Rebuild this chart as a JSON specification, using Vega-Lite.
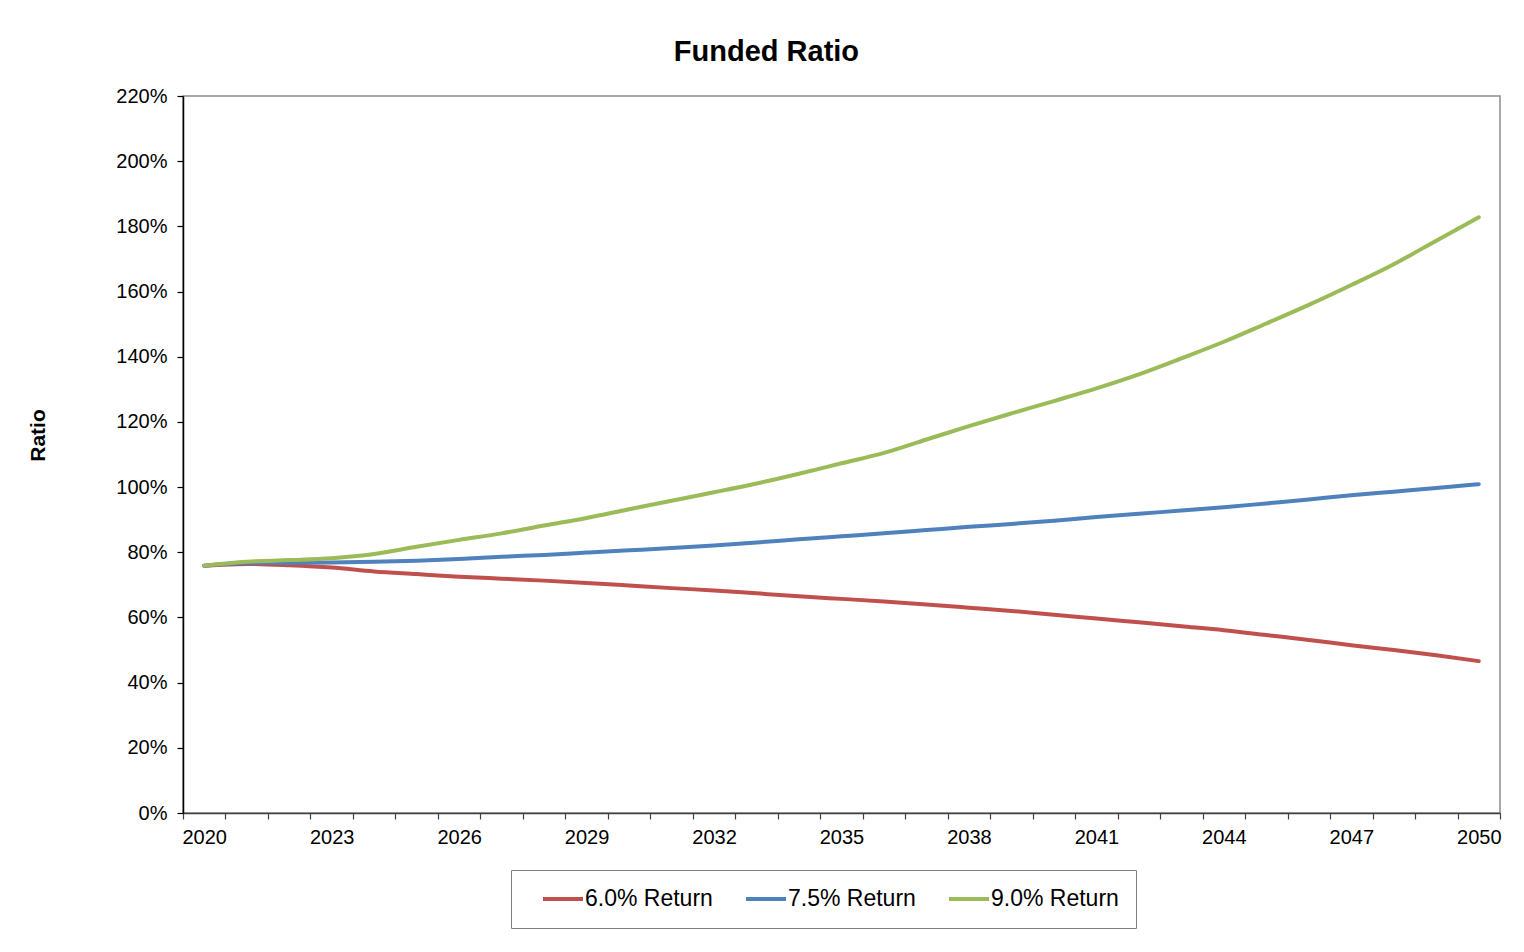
{
  "$schema": "https://vega.github.io/schema/vega-lite/v6.json",
  "width": 1317,
  "height": 717,
  "autosize": "none",
  "padding": {"left": 183, "top": 96, "right": 24, "bottom": 139},
  "background": "white",
  "title": {"text": "Funded Ratio", "font": "Liberation Sans", "fontSize": 29, "fontWeight": "bold", "color": "black", "anchor": "middle", "frame": "bounds", "offset": 19, "dx": 2},
  "config": {
    "view": {"stroke": "#8c8c8c", "strokeWidth": 1.5},
    "axis": {"labelFont": "Liberation Sans", "titleFont": "Liberation Sans", "labelColor": "black", "titleColor": "black", "grid": false}
  },
  "data": {"values": [
    {"year": 2020, "series": "6.0% Return", "ratio": 0.759},
    {"year": 2021, "series": "6.0% Return", "ratio": 0.764},
    {"year": 2022, "series": "6.0% Return", "ratio": 0.760},
    {"year": 2023, "series": "6.0% Return", "ratio": 0.753},
    {"year": 2024, "series": "6.0% Return", "ratio": 0.741},
    {"year": 2025, "series": "6.0% Return", "ratio": 0.733},
    {"year": 2026, "series": "6.0% Return", "ratio": 0.725},
    {"year": 2027, "series": "6.0% Return", "ratio": 0.719},
    {"year": 2028, "series": "6.0% Return", "ratio": 0.713},
    {"year": 2029, "series": "6.0% Return", "ratio": 0.706},
    {"year": 2030, "series": "6.0% Return", "ratio": 0.698},
    {"year": 2031, "series": "6.0% Return", "ratio": 0.690},
    {"year": 2032, "series": "6.0% Return", "ratio": 0.683},
    {"year": 2033, "series": "6.0% Return", "ratio": 0.674},
    {"year": 2034, "series": "6.0% Return", "ratio": 0.665},
    {"year": 2035, "series": "6.0% Return", "ratio": 0.657},
    {"year": 2036, "series": "6.0% Return", "ratio": 0.649},
    {"year": 2037, "series": "6.0% Return", "ratio": 0.640},
    {"year": 2038, "series": "6.0% Return", "ratio": 0.630},
    {"year": 2039, "series": "6.0% Return", "ratio": 0.620},
    {"year": 2040, "series": "6.0% Return", "ratio": 0.608},
    {"year": 2041, "series": "6.0% Return", "ratio": 0.597},
    {"year": 2042, "series": "6.0% Return", "ratio": 0.585},
    {"year": 2043, "series": "6.0% Return", "ratio": 0.573},
    {"year": 2044, "series": "6.0% Return", "ratio": 0.561},
    {"year": 2045, "series": "6.0% Return", "ratio": 0.546},
    {"year": 2046, "series": "6.0% Return", "ratio": 0.531},
    {"year": 2047, "series": "6.0% Return", "ratio": 0.515},
    {"year": 2048, "series": "6.0% Return", "ratio": 0.500},
    {"year": 2049, "series": "6.0% Return", "ratio": 0.484},
    {"year": 2050, "series": "6.0% Return", "ratio": 0.466},
    {"year": 2020, "series": "7.5% Return", "ratio": 0.759},
    {"year": 2021, "series": "7.5% Return", "ratio": 0.767},
    {"year": 2022, "series": "7.5% Return", "ratio": 0.768},
    {"year": 2023, "series": "7.5% Return", "ratio": 0.769},
    {"year": 2024, "series": "7.5% Return", "ratio": 0.771},
    {"year": 2025, "series": "7.5% Return", "ratio": 0.774},
    {"year": 2026, "series": "7.5% Return", "ratio": 0.779},
    {"year": 2027, "series": "7.5% Return", "ratio": 0.786},
    {"year": 2028, "series": "7.5% Return", "ratio": 0.792},
    {"year": 2029, "series": "7.5% Return", "ratio": 0.799},
    {"year": 2030, "series": "7.5% Return", "ratio": 0.806},
    {"year": 2031, "series": "7.5% Return", "ratio": 0.813},
    {"year": 2032, "series": "7.5% Return", "ratio": 0.821},
    {"year": 2033, "series": "7.5% Return", "ratio": 0.830},
    {"year": 2034, "series": "7.5% Return", "ratio": 0.840},
    {"year": 2035, "series": "7.5% Return", "ratio": 0.849},
    {"year": 2036, "series": "7.5% Return", "ratio": 0.858},
    {"year": 2037, "series": "7.5% Return", "ratio": 0.868},
    {"year": 2038, "series": "7.5% Return", "ratio": 0.878},
    {"year": 2039, "series": "7.5% Return", "ratio": 0.887},
    {"year": 2040, "series": "7.5% Return", "ratio": 0.897},
    {"year": 2041, "series": "7.5% Return", "ratio": 0.908},
    {"year": 2042, "series": "7.5% Return", "ratio": 0.918},
    {"year": 2043, "series": "7.5% Return", "ratio": 0.928},
    {"year": 2044, "series": "7.5% Return", "ratio": 0.938},
    {"year": 2045, "series": "7.5% Return", "ratio": 0.950},
    {"year": 2046, "series": "7.5% Return", "ratio": 0.962},
    {"year": 2047, "series": "7.5% Return", "ratio": 0.975},
    {"year": 2048, "series": "7.5% Return", "ratio": 0.986},
    {"year": 2049, "series": "7.5% Return", "ratio": 0.997},
    {"year": 2050, "series": "7.5% Return", "ratio": 1.009},
    {"year": 2020, "series": "9.0% Return", "ratio": 0.759},
    {"year": 2021, "series": "9.0% Return", "ratio": 0.771},
    {"year": 2022, "series": "9.0% Return", "ratio": 0.776},
    {"year": 2023, "series": "9.0% Return", "ratio": 0.782},
    {"year": 2024, "series": "9.0% Return", "ratio": 0.795},
    {"year": 2025, "series": "9.0% Return", "ratio": 0.817},
    {"year": 2026, "series": "9.0% Return", "ratio": 0.838},
    {"year": 2027, "series": "9.0% Return", "ratio": 0.858},
    {"year": 2028, "series": "9.0% Return", "ratio": 0.882},
    {"year": 2029, "series": "9.0% Return", "ratio": 0.905},
    {"year": 2030, "series": "9.0% Return", "ratio": 0.932},
    {"year": 2031, "series": "9.0% Return", "ratio": 0.958},
    {"year": 2032, "series": "9.0% Return", "ratio": 0.984},
    {"year": 2033, "series": "9.0% Return", "ratio": 1.011},
    {"year": 2034, "series": "9.0% Return", "ratio": 1.041},
    {"year": 2035, "series": "9.0% Return", "ratio": 1.073},
    {"year": 2036, "series": "9.0% Return", "ratio": 1.105},
    {"year": 2037, "series": "9.0% Return", "ratio": 1.146},
    {"year": 2038, "series": "9.0% Return", "ratio": 1.187},
    {"year": 2039, "series": "9.0% Return", "ratio": 1.226},
    {"year": 2040, "series": "9.0% Return", "ratio": 1.264},
    {"year": 2041, "series": "9.0% Return", "ratio": 1.303},
    {"year": 2042, "series": "9.0% Return", "ratio": 1.346},
    {"year": 2043, "series": "9.0% Return", "ratio": 1.395},
    {"year": 2044, "series": "9.0% Return", "ratio": 1.446},
    {"year": 2045, "series": "9.0% Return", "ratio": 1.502},
    {"year": 2046, "series": "9.0% Return", "ratio": 1.559},
    {"year": 2047, "series": "9.0% Return", "ratio": 1.620},
    {"year": 2048, "series": "9.0% Return", "ratio": 1.684},
    {"year": 2049, "series": "9.0% Return", "ratio": 1.756},
    {"year": 2050, "series": "9.0% Return", "ratio": 1.828}
  ]},
  "mark": {"type": "line", "strokeWidth": 4, "interpolate": "monotone", "strokeCap": "round"},
  "encoding": {
    "x": {
      "field": "year", "type": "ordinal",
      "scale": {"type": "band", "paddingInner": 0, "paddingOuter": 0},
      "axis": {
        "title": null, "tickBand": "extent", "labelAngle": 0, "labelFontSize": 20,
        "labelExpr": "(datum.value - 2020) % 3 == 0 ? datum.label : ''",
        "labelOverlap": false, "tickSize": 6, "tickColor": "#404040", "domainColor": "#404040",
        "domainWidth": 1.5, "tickWidth": 1.2, "labelPadding": 8
      }
    },
    "y": {
      "field": "ratio", "type": "quantitative",
      "scale": {"domain": [0, 2.2], "nice": false},
      "axis": {
        "title": "Ratio", "titleFontSize": 21, "titleFontWeight": "bold", "titlePadding": 67, "titleY": 339,
        "values": [0, 0.2, 0.4, 0.6, 0.8, 1.0, 1.2, 1.4, 1.6, 1.8, 2.0, 2.2],
        "format": ".0%", "labelFontSize": 20, "tickSize": 6, "labelPadding": 10,
        "domainColor": "black", "tickColor": "black", "domainWidth": 1.5, "tickWidth": 1.2
      }
    },
    "color": {
      "field": "series", "type": "nominal",
      "scale": {"domain": ["6.0% Return", "7.5% Return", "9.0% Return"], "range": ["#C0504D", "#4F81BD", "#9BBB59"]},
      "legend": {
        "orient": "none", "legendX": 328, "legendY": 774, "direction": "horizontal", "columns": 3,
        "title": null, "symbolType": "M0.3,0H4.3", "symbolSize": 400, "symbolStrokeWidth": 4,
        "labelFont": "Liberation Sans", "labelFontSize": 23, "labelColor": "black", "labelOffset": 33,
        "columnPadding": 18, "padding": 17, "strokeColor": "#7f7f7f", "fillColor": "white", "labelLimit": 300
      }
    }
  }
}
